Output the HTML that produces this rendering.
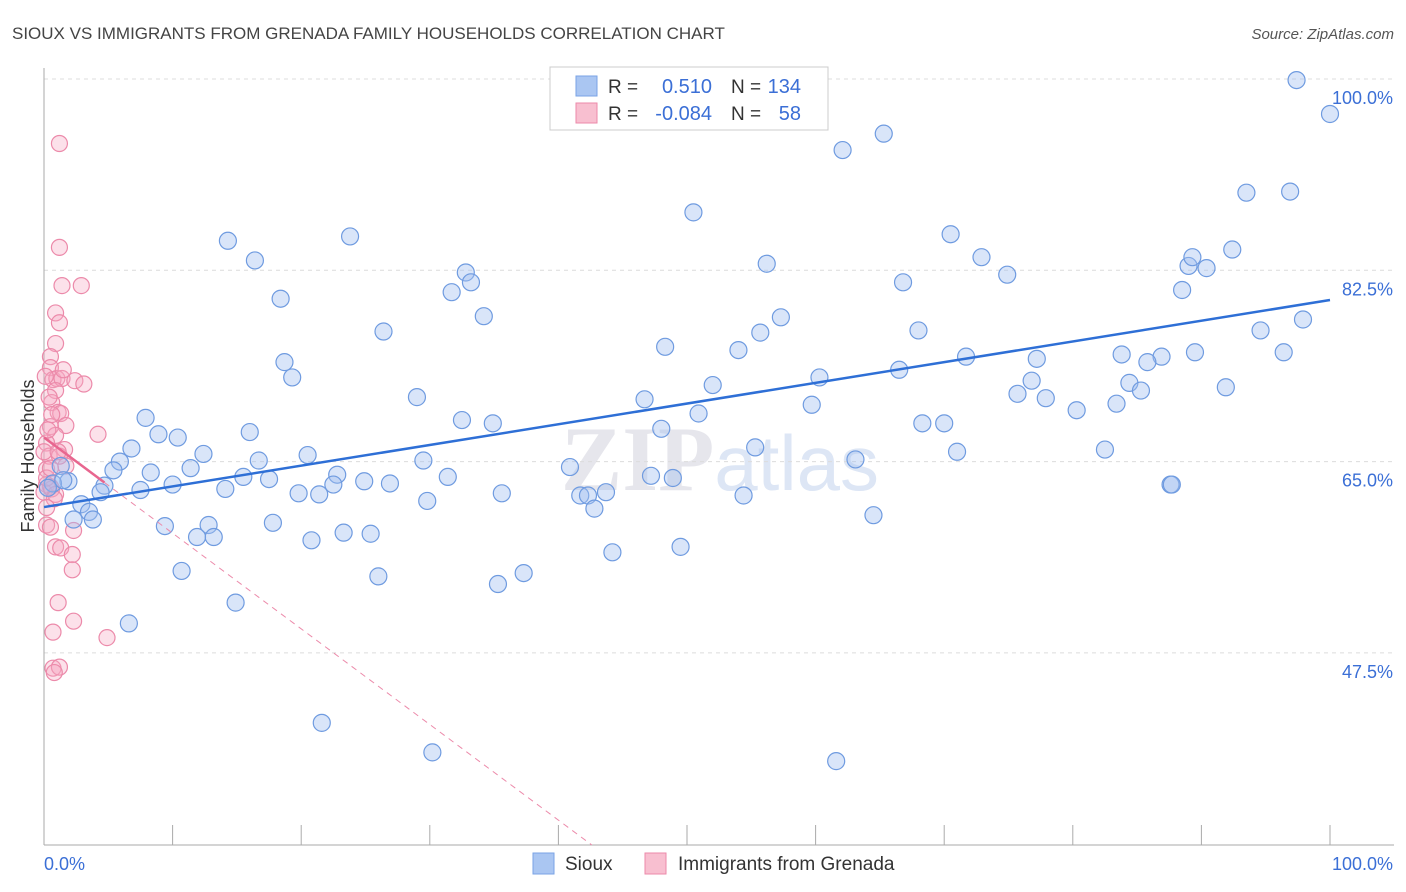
<!DOCTYPE html>
<html><head><meta charset="utf-8"><style>
body{margin:0;background:#fff;font-family:"Liberation Sans",sans-serif;}
svg{display:block}
</style></head><body>
<svg id="chart" width="1406" height="892" viewBox="0 0 1406 892" xmlns="http://www.w3.org/2000/svg">
<text x="12" y="39" font-size="17" fill="#444">SIOUX VS IMMIGRANTS FROM GRENADA FAMILY HOUSEHOLDS CORRELATION CHART</text>
<text x="1394" y="39" font-size="15" fill="#555" text-anchor="end" font-style="italic">Source: ZipAtlas.com</text>
<text x="720" y="490" font-size="92" fill="#e6e6ec" text-anchor="middle" font-family="Liberation Serif, serif" font-weight="bold">ZIP<tspan fill="#dde6f5" font-family="Liberation Sans, sans-serif" font-weight="normal" font-size="78">atlas</tspan></text>
<g id="grid"></g>
<g id="axes"></g>
<g id="pinkPts"></g>
<g id="bluePts"></g>
<g id="trends"></g>
<text transform="translate(34,456) rotate(-90)" font-size="18" fill="#333" text-anchor="middle">Family Households</text>
<text x="44" y="870" font-size="18" fill="#3b6fd6">0.0%</text>
<text x="1393" y="870" font-size="18" fill="#3b6fd6" text-anchor="end">100.0%</text>
<g>
<rect x="550" y="67" width="278" height="63" fill="#fff" stroke="#ccc"/>
<rect x="576" y="76" width="21" height="20" fill="#aac6f2" stroke="#7aa3e5"/>
<rect x="576" y="103" width="21" height="20" fill="#f8bfd0" stroke="#ec8aaa"/>
<text x="608" y="93" font-size="19" fill="#333">R =</text>
<text x="712" y="93" font-size="20" fill="#3b6fd6" text-anchor="end">0.510</text>
<text x="731" y="93" font-size="19" fill="#333">N =</text>
<text x="801" y="93" font-size="20" fill="#3b6fd6" text-anchor="end">134</text>
<text x="608" y="120" font-size="19" fill="#333">R =</text>
<text x="712" y="120" font-size="20" fill="#3b6fd6" text-anchor="end">-0.084</text>
<text x="731" y="120" font-size="19" fill="#333">N =</text>
<text x="801" y="120" font-size="20" fill="#3b6fd6" text-anchor="end">58</text>
</g>
<g>
<rect x="533" y="853" width="21" height="21" fill="#aac6f2" stroke="#7aa3e5"/>
<text x="565" y="870" font-size="19" fill="#333">Sioux</text>
</g>
<g>
<rect x="645" y="853" width="21" height="21" fill="#f8bfd0" stroke="#ec8aaa"/>
<text x="678" y="870" font-size="19" fill="#333">Immigrants from Grenada</text>
</g>
</svg>
<script>
const yTicks=[100,82.5,65,47.5];
const yTickLabels=["100.0%","82.5%","65.0%","47.5%"];
const xTicks=[0,10,20,30,40,50,60,70,80,90,100];
const siouxX=[97.4,100,65.3,62.1,93.5,96.9,50.5,14.3,23.8,70.5,16.4,72.9,89.0,89.3,90.4,92.4,56.2,32.8,33.2,31.7,74.9,66.8,88.5,18.4,34.2,57.3,26.4,68.0,55.7,94.6,97.9,48.3,54.0,18.7,83.8,89.5,96.4,71.7,77.2,86.9,85.8,19.3,60.3,66.5,52.0,76.8,84.4,85.3,91.9,29.0,46.7,75.7,77.9,59.7,83.4,80.3,50.9,7.9,32.5,34.9,68.3,70.0,48.0,8.9,16.0,10.4,6.8,55.3,82.5,71.0,12.4,20.5,29.5,63.1,5.9,16.7,1.3,5.4,11.4,40.9,8.3,15.5,17.5,31.4,47.2,48.9,22.8,10.0,1.9,0.7,24.9,26.9,22.5,4.7,14.1,7.5,19.8,21.4,35.6,43.7,41.7,42.3,4.4,29.8,54.4,2.9,42.8,3.5,2.3,3.8,64.5,17.8,9.4,12.8,23.3,25.4,11.9,13.2,20.8,44.2,49.5,10.7,26.0,37.3,35.3,14.9,6.6,21.6,30.2,61.6,87.6,87.7,1.5,0.3];
const siouxY=[99.9,96.8,95.0,93.5,89.6,89.7,87.8,85.2,85.6,85.8,83.4,83.7,82.9,83.7,82.7,84.4,83.1,82.3,81.4,80.5,82.1,81.4,80.7,79.9,78.3,78.2,76.9,77.0,76.8,77.0,78.0,75.5,75.2,74.1,74.8,75.0,75.0,74.6,74.4,74.6,74.1,72.7,72.7,73.4,72.0,72.4,72.2,71.5,71.8,70.9,70.7,71.2,70.8,70.2,70.3,69.7,69.4,69.0,68.8,68.5,68.5,68.5,68.0,67.5,67.7,67.2,66.2,66.3,66.1,65.9,65.7,65.6,65.1,65.2,65.0,65.1,64.6,64.2,64.4,64.5,64.0,63.6,63.4,63.6,63.7,63.5,63.8,62.9,63.2,63.0,63.2,63.0,62.9,62.8,62.5,62.4,62.1,62.0,62.1,62.2,61.9,61.9,62.2,61.4,61.9,61.1,60.7,60.4,59.7,59.7,60.1,59.4,59.1,59.2,58.5,58.4,58.1,58.1,57.8,56.7,57.2,55.0,54.5,54.8,53.8,52.1,50.2,41.1,38.4,37.6,62.9,62.9,63.3,62.6];
const grenadaX=[1.2,1.2,1.4,2.9,0.9,1.2,0.9,0.5,0.5,0.7,1.0,1.4,2.4,3.1,0.1,0.9,0.6,1.1,1.3,0.5,1.7,0.9,0.2,4.2,1.6,0.4,0.2,0.2,0.5,0,0.6,0.2,0.5,2.3,0.9,1.3,2.2,2.2,1.1,2.3,0.7,4.9,0.7,1.2,0.8,0.2,0.9,0,0.3,1.7,1.2,0.6,0.4,1.5,0.8,0.2,1.1,0.5];
const grenadaY=[94.1,84.6,81.1,81.1,78.6,77.7,75.8,74.6,73.6,72.5,72.6,72.6,72.4,72.1,72.8,71.5,70.4,69.5,69.4,68.2,68.3,67.4,66.7,67.5,66.1,65.5,64.3,62.9,62.7,62.2,62.5,59.2,59.0,58.7,57.2,57.1,56.5,55.1,52.1,50.4,49.4,48.9,46.1,46.2,45.7,63.5,62.0,65.9,67.9,64.6,65.5,69.3,70.9,73.4,61.6,60.8,65.9,64.4];
const siouxTrend=[60.84,79.78];
const grenadaTrend=[67.2,-0.875];

const NS="http://www.w3.org/2000/svg";
const L=44,R=1330,T=79,B=845;
function xs(v){return L+(R-L)*v/100;}
function ys(v){return T+(100-v)*(191.3/17.5);}
function mk(tag,attrs,parent){const e=document.createElementNS(NS,tag);for(const k in attrs)e.setAttribute(k,attrs[k]);parent.appendChild(e);return e;}
const grid=document.getElementById('grid'),axes=document.getElementById('axes');
yTicks.forEach((t,i)=>{
  const g=mk('line',{x1:L,x2:1394,y1:ys(t),y2:ys(t),stroke:'#dcdcdc','stroke-dasharray':'4,4'},grid);
  
  
  const tx=mk('text',{x:1393,y:ys(t)+25,'font-size':18,fill:'#3b6fd6','text-anchor':'end'},axes);
  tx.textContent=yTickLabels[i];
  
  
});
const al=mk('line',{x1:L,x2:L,y1:68,y2:B,stroke:'#aaa'},axes);


const bl=mk('line',{x1:L,x2:1394,y1:B,y2:B,stroke:'#aaa'},axes);


xTicks.forEach(t=>{
  const tk=mk('line',{x1:xs(t),x2:xs(t),y1:B-20,y2:B,stroke:'#aaa'},axes);
  
  
});
const bp=document.getElementById('bluePts'),pp=document.getElementById('pinkPts');
grenadaX.forEach((x,i)=>{
  const c=mk('circle',{cx:xs(x),cy:ys(grenadaY[i]),r:8,fill:'rgba(245,170,195,0.35)',stroke:'#ec8aaa','stroke-width':1.2},pp);
  
  
});
siouxX.forEach((x,i)=>{
  const c=mk('circle',{cx:xs(x),cy:ys(siouxY[i]),r:8.5,fill:'rgba(160,190,240,0.4)',stroke:'#6f9be0','stroke-width':1.2},bp);
  
  
});
const tr=document.getElementById('trends');
const bt=mk('line',{x1:xs(0),y1:ys(siouxTrend[0]),x2:xs(100),y2:ys(siouxTrend[1]),stroke:'#2e6fd6','stroke-width':2.5},tr);


const pf=x=>grenadaTrend[0]+grenadaTrend[1]*x;
const xEnd=(ys.inv=((B-T)/(191.3/17.5)),(100-ys.inv-grenadaTrend[0])/grenadaTrend[1]);
const pd=mk('line',{x1:xs(4.7),y1:ys(pf(4.7)),x2:xs(xEnd),y2:ys(pf(xEnd)),stroke:'#ec8aaa','stroke-width':1,'stroke-dasharray':'6,5'},tr);


const ps=mk('line',{x1:xs(0),y1:ys(pf(0)),x2:xs(4.7),y2:ys(pf(4.7)),stroke:'#e8668f','stroke-width':2.5},tr);


</script>
</body></html>
